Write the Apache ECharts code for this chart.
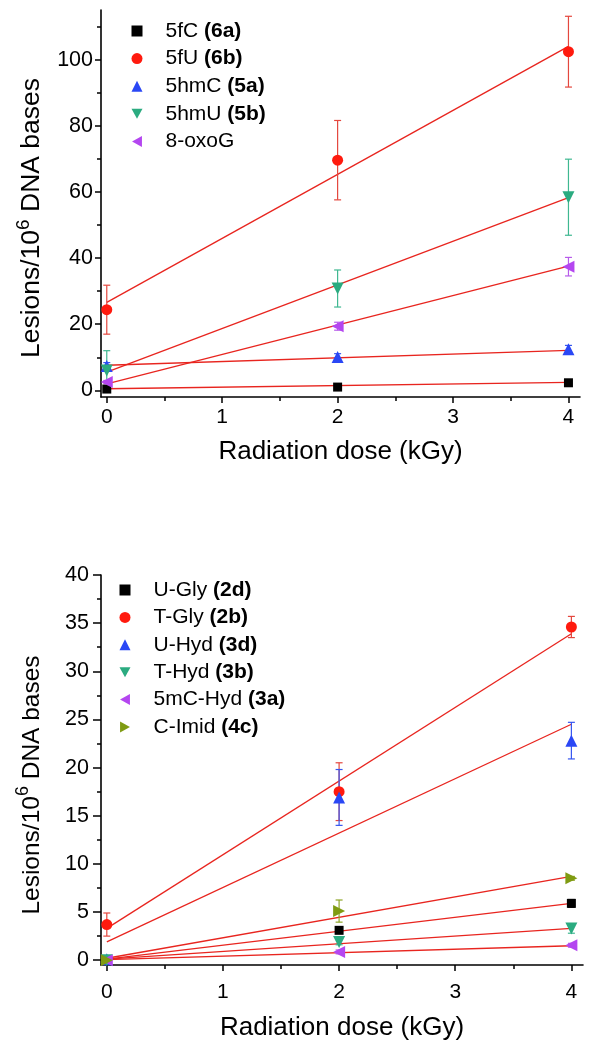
<!DOCTYPE html>
<html>
<head>
<meta charset="utf-8">
<script src="https://cdn.jsdelivr.net/npm/echarts@6/dist/echarts.min.js"></script>
<style>
html,body{margin:0;padding:0;background:#fff;}
#c{width:590px;height:1055px;}
</style>
</head>
<body>
<div id="c"></div>
<script>
// ---- data ----
const doses = [0, 2, 4];
const fitX = [0, 4];

// top panel
const topNames = ['5fC', '5fU', '5hmC', '5hmU', '8-oxoG'];
const topCodes = ['(6a)', '(6b)', '(5a)', '(5b)', ''];
const top5fC   = [0.4, 1.0, 2.3];
const top5fU   = [24.4, 69.6, 102.4];
const top5hmC  = [7.4, 10.1, 12.4];
const top5hmU  = [6.0, 30.8, 58.4];
const top8oxoG = [2.5, 19.4, 37.4];
const errTop5fC   = [0.3, 0.4, 0.4];
const errTop5fU   = [7.4, 12.0, 10.7];
const errTop5hmC  = [1.0, 1.0, 1.2];
const errTop5hmU  = [6.0, 5.6, 11.5];
const errTop8oxoG = [0.5, 1.2, 2.8];
const fitTop5fC   = [0.5, 2.4];
const fitTop5fU   = [26.6, 104.0];
const fitTop5hmC  = [7.6, 12.1];
const fitTop5hmU  = [5.5, 58.3];
const fitTop8oxoG = [2.0, 37.6];

// bottom panel
const botNames = ['U-Gly', 'T-Gly', 'U-Hyd', 'T-Hyd', '5mC-Hyd', 'C-Imid'];
const botCodes = ['(2d)', '(2b)', '(3d)', '(3b)', '(3a)', '(4c)'];
const botUGly   = [0.0, 3.1, 5.9];
const botTGly   = [3.7, 17.5, 34.6];
const botUHyd   = [0.1, 16.9, 22.8];
const botTHyd   = [0.0, 1.9, 3.3];
const bot5mCHyd = [0.0, 0.86, 1.55];
const botCImid  = [0.0, 5.1, 8.5];
const errBotUGly   = [0.1, 0.3, 0.4];
const errBotTGly   = [1.2, 3.0, 1.1];
const errBotUHyd   = [0.1, 2.9, 1.9];
const errBotTHyd   = [0.1, 0.3, 0.5];
const errBot5mCHyd = [0.1, 0.2, 0.2];
const errBotCImid  = [0.1, 1.15, 0.2];
const fitBotUGly   = [0.1, 5.9];
const fitBotTGly   = [3.3, 33.9];
const fitBotUHyd   = [1.9, 24.5];
const fitBotTHyd   = [0.1, 3.3];
const fitBot5mCHyd = [0.05, 1.5];
const fitBotCImid  = [0.2, 8.7];

// ticks
const xTickLabels = [0, 1, 2, 3, 4];
const xMinorTicks = [0.5, 1.5, 2.5, 3.5];
const topYLabels = [0, 20, 40, 60, 80, 100];
const topYMinor = [10, 30, 50, 70, 90, 110];
const botYLabels = [0, 5, 10, 15, 20, 25, 30, 35, 40];
const botYMinor = [2.5, 7.5, 12.5, 17.5, 22.5, 27.5, 32.5, 37.5];

// ---- styles ----
const FONT = '"Liberation Sans", Arial, Helvetica, sans-serif';
const FITCOLOR = '#e8251f';
const SYM = {
  square: 'rect',
  circle: 'circle',
  up: 'triangle',
  down: 'path://M0,0L10,0L5,9Z',
  left: 'path://M9,0L9,10L0,5Z',
  right: 'path://M0,0L9,5L0,10Z'
};
const topStyle = [
  {c: '#000000', e: '#000000', s: SYM.square},
  {c: '#ff1a0e', e: '#e4473e', s: SYM.circle},
  {c: '#2a47f5', e: '#3656f0', s: SYM.up},
  {c: '#2bab80', e: '#3fb891', s: SYM.down},
  {c: '#b446f0', e: '#b75bea', s: SYM.left}
];
const botStyle = [
  {c: '#000000', e: '#000000', s: SYM.square},
  {c: '#ff1a0e', e: '#e4473e', s: SYM.circle},
  {c: '#2a47f5', e: '#3656f0', s: SYM.up},
  {c: '#2bab80', e: '#3fb891', s: SYM.down},
  {c: '#b446f0', e: '#b75bea', s: SYM.left},
  {c: '#7f9b12', e: '#8ea527', s: SYM.right}
];

const topVals = [top5fC, top5fU, top5hmC, top5hmU, top8oxoG];
const topErrs = [errTop5fC, errTop5fU, errTop5hmC, errTop5hmU, errTop8oxoG];
const topFits = [fitTop5fC, fitTop5fU, fitTop5hmC, fitTop5hmU, fitTop8oxoG];
const botVals = [botUGly, botTGly, botUHyd, botTHyd, bot5mCHyd, botCImid];
const botErrs = [errBotUGly, errBotTGly, errBotUHyd, errBotTHyd, errBot5mCHyd, errBotCImid];
const botFits = [fitBotUGly, fitBotTGly, fitBotUHyd, fitBotTHyd, fitBot5mCHyd, fitBotCImid];

function fullName(n, c) { return c ? n + ' ' + c : n; }

function errSeries(idx, vals, errs, color) {
  return {
    type: 'custom', xAxisIndex: idx * 2, yAxisIndex: idx * 2, silent: true, z: 5,
    data: doses.map((d, i) => [d, vals[i], errs[i]]),
    encode: {x: 0, y: 1},
    renderItem: function (params, api) {
      const x = api.value(0), y = api.value(1), e = api.value(2);
      const t = api.coord([x, y + e]);
      const b = api.coord([x, y - e]);
      const hw = 3.5;
      const st = {stroke: color, lineWidth: 1.2};
      return {type: 'group', children: [
        {type: 'line', shape: {x1: t[0], y1: t[1], x2: b[0], y2: b[1]}, style: st},
        {type: 'line', shape: {x1: t[0] - hw, y1: t[1], x2: t[0] + hw, y2: t[1]}, style: st},
        {type: 'line', shape: {x1: b[0] - hw, y1: b[1], x2: b[0] + hw, y2: b[1]}, style: st}
      ]};
    }
  };
}

function buildSeries(idx, names, codes, vals, errs, fits, styles) {
  const out = [];
  names.forEach((n, k) => {
    out.push({
      type: 'line', xAxisIndex: idx * 2, yAxisIndex: idx * 2, silent: true, z: 3,
      data: fitX.map((x, i) => [x, fits[k][i]]),
      symbol: 'none', lineStyle: {color: FITCOLOR, width: 1.3}
    });
  });
  names.forEach((n, k) => {
    out.push(errSeries(idx, vals[k], errs[k], styles[k].e));
  });
  names.forEach((n, k) => {
    const st = styles[k];
    const sz = st.s === 'rect' ? 9 : (st.s === 'circle' ? 11 : 12);
    out.push({
      type: 'scatter', xAxisIndex: idx * 2, yAxisIndex: idx * 2, z: 10 + k,
      name: fullName(n, codes[k]),
      data: doses.map((d, i) => [d, vals[k][i]]),
      symbol: st.s, symbolSize: sz,
      itemStyle: {color: st.c, opacity: 1}
    });
  });
  return out;
}

const richLegend = {
  n: {fontSize: 21, fontFamily: FONT, color: '#000', lineHeight: 22, padding: [0, 0, 0, 18]},
  b: {fontSize: 21, fontFamily: FONT, color: '#000', fontWeight: 'bold', lineHeight: 22}
};
function legendFormatter(name) {
  const i = name.indexOf(' (');
  if (i < 0) return '{n|' + name + '}';
  return '{n|' + name.slice(0, i) + ' }{b|' + name.slice(i + 1) + '}';
}

function yNameRich(fs) {
  return {
    a: {fontSize: fs, fontFamily: FONT, color: '#000', lineHeight: 31, verticalAlign: 'bottom'},
    s: {fontSize: Math.round(fs * 0.72), fontFamily: FONT, color: '#000', lineHeight: 19, verticalAlign: 'top'}
  };
}

const AX = {color: '#000', width: 1.6};

function xAxes(idx, nameGap, labelMargin) {
  const base = {
    gridIndex: idx, type: 'value', min: -0.05, max: 4.1, splitLine: {show: false}
  };
  return [
    Object.assign({}, base, {
      name: 'Radiation dose (kGy)', nameLocation: 'middle', nameGap: nameGap,
      nameTextStyle: {fontSize: 26, fontFamily: FONT, color: '#000'},
      axisLine: {show: true, onZero: false, lineStyle: AX},
      axisTick: {show: true, length: 6, customValues: xTickLabels, lineStyle: {color: '#000', width: 1.5}},
      axisLabel: {customValues: xTickLabels, fontSize: 21, fontFamily: FONT, color: '#000', margin: labelMargin}
    }),
    Object.assign({}, base, {
      position: 'bottom', offset: 0,
      axisLine: {show: false, onZero: false},
      axisTick: {show: true, length: 4, customValues: xMinorTicks, lineStyle: {color: '#000', width: 1.5}},
      axisLabel: {show: false}
    })
  ];
}
function yAxes(idx, min, max, labels, minor, pad, fs, tickLen, labelMargin) {
  const base = {gridIndex: idx, type: 'value', min: min, max: max, splitLine: {show: false}};
  return [
    Object.assign({}, base, {
      name: '{a|Lesions/10}{s|6}{a| DNA bases}', nameLocation: 'middle', nameGap: 56, nameRotate: 90,
      nameTextStyle: {fontSize: fs, fontFamily: FONT, color: '#000', rich: yNameRich(fs), padding: [0, pad, 0, 0]},
      axisLine: {show: true, onZero: false, lineStyle: AX},
      axisTick: {show: true, length: tickLen, customValues: labels, lineStyle: {color: '#000', width: 1.5}},
      axisLabel: {customValues: labels, fontSize: 21.5, fontFamily: FONT, color: '#000', margin: labelMargin}
    }),
    Object.assign({}, base, {
      position: 'left', offset: 0,
      axisLine: {show: false, onZero: false},
      axisTick: {show: true, length: 4, customValues: minor, lineStyle: {color: '#000', width: 1.5}},
      axisLabel: {show: false}
    })
  ];
}

const option = {
  animation: false,
  backgroundColor: '#fff',
  textStyle: {fontFamily: FONT},
  grid: [
    {left: 101, top: 10, width: 479, height: 387},
    {left: 101, top: 575, width: 482, height: 390}
  ],
  xAxis: [].concat(xAxes(0, 42, 10), xAxes(1, 50, 17)),
  yAxis: [].concat(
    yAxes(0, -2, 115, topYLabels, topYMinor, 29, 26.5, 6, 8),
    yAxes(1, -0.5, 40, botYLabels, botYMinor, 30, 24.5, 8, 12)
  ),
  legend: [
    {
      orient: 'vertical', left: 131.5, top: 20.5, padding: 0, itemWidth: 11, itemHeight: 11, itemGap: 6.6,
      data: topNames.map((n, k) => fullName(n, topCodes[k])),
      formatter: legendFormatter, textStyle: {rich: richLegend, fontSize: 21},
      selectedMode: false
    },
    {
      orient: 'vertical', left: 119.5, top: 579.5, padding: 0, itemWidth: 11, itemHeight: 11, itemGap: 6.4,
      data: botNames.map((n, k) => fullName(n, botCodes[k])),
      formatter: legendFormatter, textStyle: {rich: richLegend, fontSize: 21},
      selectedMode: false
    }
  ],
  series: [].concat(
    buildSeries(0, topNames, topCodes, topVals, topErrs, topFits, topStyle),
    buildSeries(1, botNames, botCodes, botVals, botErrs, botFits, botStyle)
  )
};

const chart = echarts.init(document.getElementById('c'), null, {renderer: 'canvas'});
chart.setOption(option);
</script>
</body>
</html>
